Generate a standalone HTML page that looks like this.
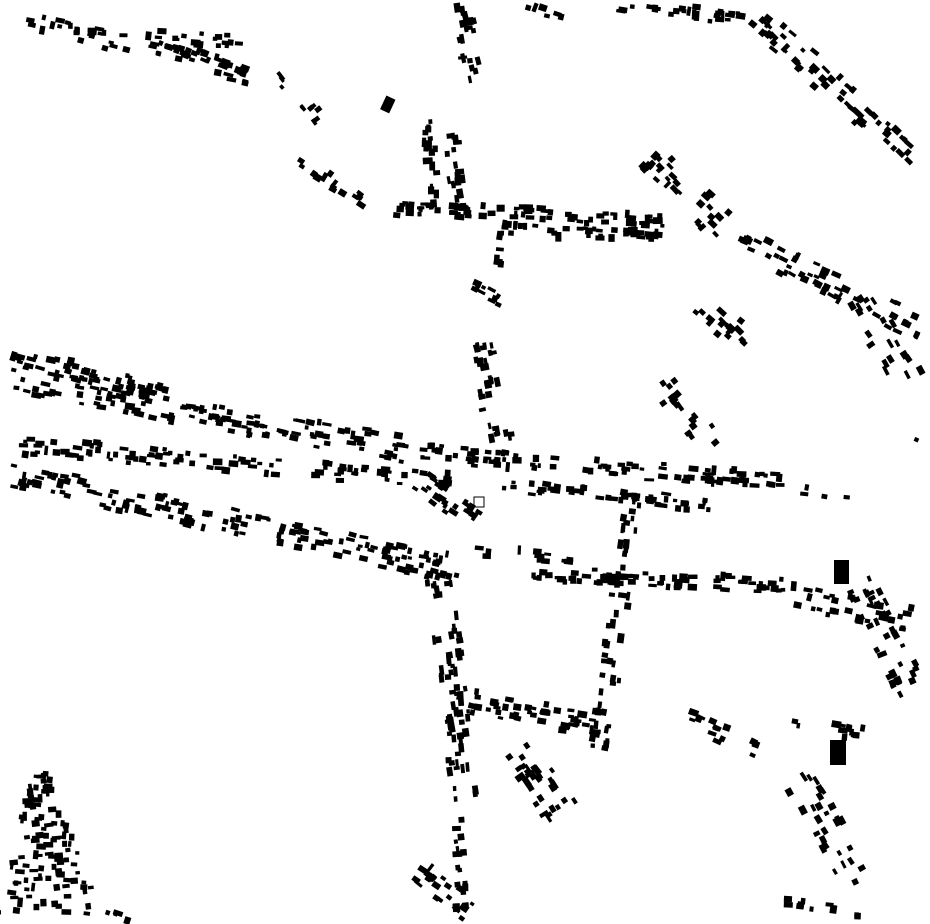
<!DOCTYPE html>
<html><head><meta charset="utf-8"><style>html,body{margin:0;padding:0;background:#fff}svg{display:block}</style></head>
<body>
<svg id="s" xmlns="http://www.w3.org/2000/svg" width="930" height="924" viewBox="0 0 930 924">
<rect x="0" y="0" width="930" height="924" fill="#fff"/>
<rect x="383" y="97" width="10" height="15" transform="rotate(25 388 104)" fill="#000"/>
<rect x="834" y="560" width="15" height="24" fill="#000"/>
<rect x="830" y="740" width="16" height="25" fill="#000"/>
<rect x="474" y="497" width="10" height="10" fill="none" stroke="#000" stroke-width="1"/>
</svg>
<script>
var seed=12345;function r(){seed=(seed*16807)%2147483647;return (seed-1)/2147483646;}
var S=[
[20,20,250,75,35,16],[70,30,240,42,25,10],[160,40,245,72,25,10],[270,65,320,125,10,14],
[290,155,365,205,16,14],[390,208,665,220,70,10],[505,228,660,236,40,8],
[430,120,433,210,20,10],[450,130,460,210,16,10],[460,5,475,82,20,16],[528,8,560,18,6,6],
[620,5,740,18,26,12],[755,15,915,160,60,20],[650,155,725,230,30,26],[740,240,920,330,50,22],
[700,300,750,345,16,24],[860,300,912,385,20,26],[470,285,500,300,10,10],[480,340,500,445,28,20],
[505,225,500,265,8,8],[10,355,170,395,50,14],[10,380,410,450,130,22],[15,445,450,482,95,14],
[10,475,460,570,150,22],[420,452,780,482,95,14],[500,485,710,505,45,10],[480,553,570,560,12,12],
[530,575,800,585,70,12],[800,598,910,620,28,20],[440,575,465,800,65,22],[455,820,462,910,16,10],
[420,872,470,910,20,20],[632,490,600,752,50,18],[460,700,600,725,45,20],[690,720,760,750,14,16],
[790,722,870,735,12,12],[520,750,562,810,30,30],[860,578,912,690,36,26],[800,780,860,885,28,26],
[785,905,870,913,10,8],[660,380,712,445,16,22],
[105,910,130,918,4,6],[915,440,925,445,1,2],[800,490,860,500,4,6],[420,480,480,520,25,20]];
var h='';
function put(x,y,a){var w=4+r()*6,hh=3+r()*4;
h+='<rect x="'+(x-w/2).toFixed(1)+'" y="'+(y-hh/2).toFixed(1)+'" width="'+w.toFixed(1)+'" height="'+hh.toFixed(1)+'" transform="rotate('+a.toFixed(1)+' '+x.toFixed(1)+' '+y.toFixed(1)+')" fill="#000"/>';}
S.forEach(function(s){var dx=s[2]-s[0],dy=s[3]-s[1],L=Math.hypot(dx,dy),a=Math.atan2(dy,dx)*180/Math.PI;
var nx=-dy/L,ny=dx/L,j=s[5]*0.6;
for(var i=0;i<s[4];i++){var t=r(),o=(r()-.5)*j*2,x=s[0]+dx*t+nx*o+(r()-.5)*3,y=s[1]+dy*t+ny*o+(r()-.5)*3;
var aa=r()<0.15?a+90:a;put(x,y,aa+(r()-.5)*8);}});
// bottom-left triangular blob
for(var i=0;i<110;i++){var v=r(),y=770+v*145,half=8+v*45,x=40+(r()-.5)*2*half+v*10;put(x,y,(r()<.6?0:90)+(r()-.5)*16);}
document.getElementById('s').insertAdjacentHTML('beforeend',h);
</script>
</body></html>
